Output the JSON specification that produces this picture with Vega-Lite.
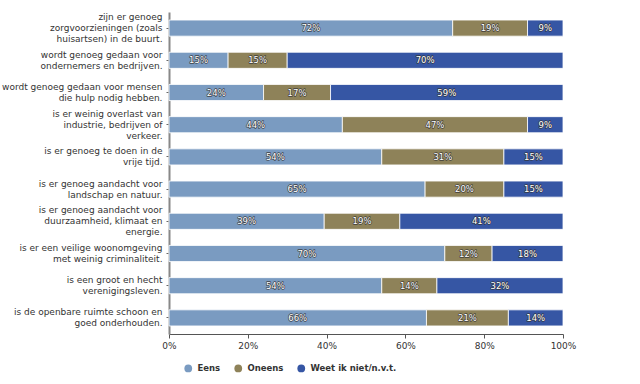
{
  "$schema": "https://vega.github.io/schema/vega-lite/v6.json",
  "width": 394,
  "height": 322,
  "padding": {"left": 1, "top": 12, "right": 5, "bottom": 5},
  "background": "#ffffff",
  "config": {
    "view": {"stroke": null},
    "font": "DejaVu Sans",
    "axis": {"labelFont": "DejaVu Sans", "labelColor": "#333333"},
    "legend": {"labelFont": "DejaVu Sans"}
  },
  "data": {
    "values": [
      {"q": "zijn er genoeg|zorgvoorzieningen (zoals|huisartsen) in de buurt.", "c": "Eens", "v": 0.72},
      {"q": "zijn er genoeg|zorgvoorzieningen (zoals|huisartsen) in de buurt.", "c": "Oneens", "v": 0.19},
      {"q": "zijn er genoeg|zorgvoorzieningen (zoals|huisartsen) in de buurt.", "c": "Weet ik niet/n.v.t.", "v": 0.09},
      {"q": "wordt genoeg gedaan voor|ondernemers en bedrijven.", "c": "Eens", "v": 0.15},
      {"q": "wordt genoeg gedaan voor|ondernemers en bedrijven.", "c": "Oneens", "v": 0.15},
      {"q": "wordt genoeg gedaan voor|ondernemers en bedrijven.", "c": "Weet ik niet/n.v.t.", "v": 0.70},
      {"q": "wordt genoeg gedaan voor mensen|die hulp nodig hebben.", "c": "Eens", "v": 0.24},
      {"q": "wordt genoeg gedaan voor mensen|die hulp nodig hebben.", "c": "Oneens", "v": 0.17},
      {"q": "wordt genoeg gedaan voor mensen|die hulp nodig hebben.", "c": "Weet ik niet/n.v.t.", "v": 0.59},
      {"q": "is er weinig overlast van|industrie, bedrijven of|verkeer.", "c": "Eens", "v": 0.44},
      {"q": "is er weinig overlast van|industrie, bedrijven of|verkeer.", "c": "Oneens", "v": 0.47},
      {"q": "is er weinig overlast van|industrie, bedrijven of|verkeer.", "c": "Weet ik niet/n.v.t.", "v": 0.09},
      {"q": "is er genoeg te doen in de|vrije tijd.", "c": "Eens", "v": 0.54},
      {"q": "is er genoeg te doen in de|vrije tijd.", "c": "Oneens", "v": 0.31},
      {"q": "is er genoeg te doen in de|vrije tijd.", "c": "Weet ik niet/n.v.t.", "v": 0.15},
      {"q": "is er genoeg aandacht voor|landschap en natuur.", "c": "Eens", "v": 0.65},
      {"q": "is er genoeg aandacht voor|landschap en natuur.", "c": "Oneens", "v": 0.20},
      {"q": "is er genoeg aandacht voor|landschap en natuur.", "c": "Weet ik niet/n.v.t.", "v": 0.15},
      {"q": "is er genoeg aandacht voor|duurzaamheid, klimaat en|energie.", "c": "Eens", "v": 0.39},
      {"q": "is er genoeg aandacht voor|duurzaamheid, klimaat en|energie.", "c": "Oneens", "v": 0.19},
      {"q": "is er genoeg aandacht voor|duurzaamheid, klimaat en|energie.", "c": "Weet ik niet/n.v.t.", "v": 0.41},
      {"q": "is er een veilige woonomgeving|met weinig criminaliteit.", "c": "Eens", "v": 0.70},
      {"q": "is er een veilige woonomgeving|met weinig criminaliteit.", "c": "Oneens", "v": 0.12},
      {"q": "is er een veilige woonomgeving|met weinig criminaliteit.", "c": "Weet ik niet/n.v.t.", "v": 0.18},
      {"q": "is een groot en hecht|verenigingsleven.", "c": "Eens", "v": 0.54},
      {"q": "is een groot en hecht|verenigingsleven.", "c": "Oneens", "v": 0.14},
      {"q": "is een groot en hecht|verenigingsleven.", "c": "Weet ik niet/n.v.t.", "v": 0.32},
      {"q": "is de openbare ruimte schoon en|goed onderhouden.", "c": "Eens", "v": 0.66},
      {"q": "is de openbare ruimte schoon en|goed onderhouden.", "c": "Oneens", "v": 0.21},
      {"q": "is de openbare ruimte schoon en|goed onderhouden.", "c": "Weet ik niet/n.v.t.", "v": 0.14}
    ]
  },
  "encoding": {
    "y": {
      "field": "q", "type": "nominal", "sort": null, "title": null,
      "scale": {"paddingInner": 0.5, "paddingOuter": 0.25},
      "axis": {
        "labelExpr": "split(datum.value, '|')",
        "labelFontSize": 9,
        "labelLineHeight": 11,
        "labelLimit": 300,
        "domainColor": "#888888",
        "domainWidth": 2,
        "tickColor": "#666666",
        "tickSize": 3,
        "labelPadding": 4,
        "labelOffset": {
          "condition": {"test": "length(split(datum.value, '|')) == 3", "value": -11},
          "value": -5.5
        }
      }
    }
  },
  "layer": [
    {
      "mark": {"type": "bar", "stroke": "#ffffff", "strokeWidth": 0.8},
      "encoding": {
        "x": {
          "field": "v", "type": "quantitative", "stack": "normalize", "title": null,
          "scale": {"domain": [0, 1], "nice": false},
          "axis": {
            "format": ".0%", "values": [0, 0.2, 0.4, 0.6, 0.8, 1],
            "grid": false, "labelFontSize": 9, "domainColor": "#555555",
            "tickColor": "#555555", "tickSize": 4, "labelPadding": 3,
            "labelFlush": false
          }
        },
        "order": {"field": "c", "sort": "ascending"},
        "color": {
          "field": "c", "type": "nominal", "title": null,
          "scale": {
            "domain": ["Eens", "Oneens", "Weet ik niet/n.v.t."],
            "range": ["#7a9bc1", "#8e8259", "#3656a4"]
          },
          "legend": {
            "orient": "none", "legendX": 15, "legendY": 352,
            "direction": "horizontal", "symbolType": "circle",
            "symbolSize": 60, "labelFontSize": 8.5, "labelColor": "#333333",
            "labelFontWeight": 600,
            "columnPadding": 13, "labelOffset": 5, "symbolStrokeWidth": 0
          }
        }
      }
    },
    {
      "mark": {
        "type": "text", "fontSize": 8.5, "fill": "#333333",
        "stroke": "#333333", "strokeWidth": 1.3, "strokeJoin": "round", "opacity": 0.85
      },
      "encoding": {
        "x": {"field": "v", "type": "quantitative", "stack": "normalize", "bandPosition": 0.5},
        "order": {"field": "c", "sort": "ascending"},
        "text": {"field": "v", "type": "quantitative", "format": ".0%"}
      }
    },
    {
      "mark": {"type": "text", "fontSize": 8.5, "fill": "#ffffff"},
      "encoding": {
        "x": {"field": "v", "type": "quantitative", "stack": "normalize", "bandPosition": 0.5},
        "order": {"field": "c", "sort": "ascending"},
        "text": {"field": "v", "type": "quantitative", "format": ".0%"}
      }
    }
  ]
}
